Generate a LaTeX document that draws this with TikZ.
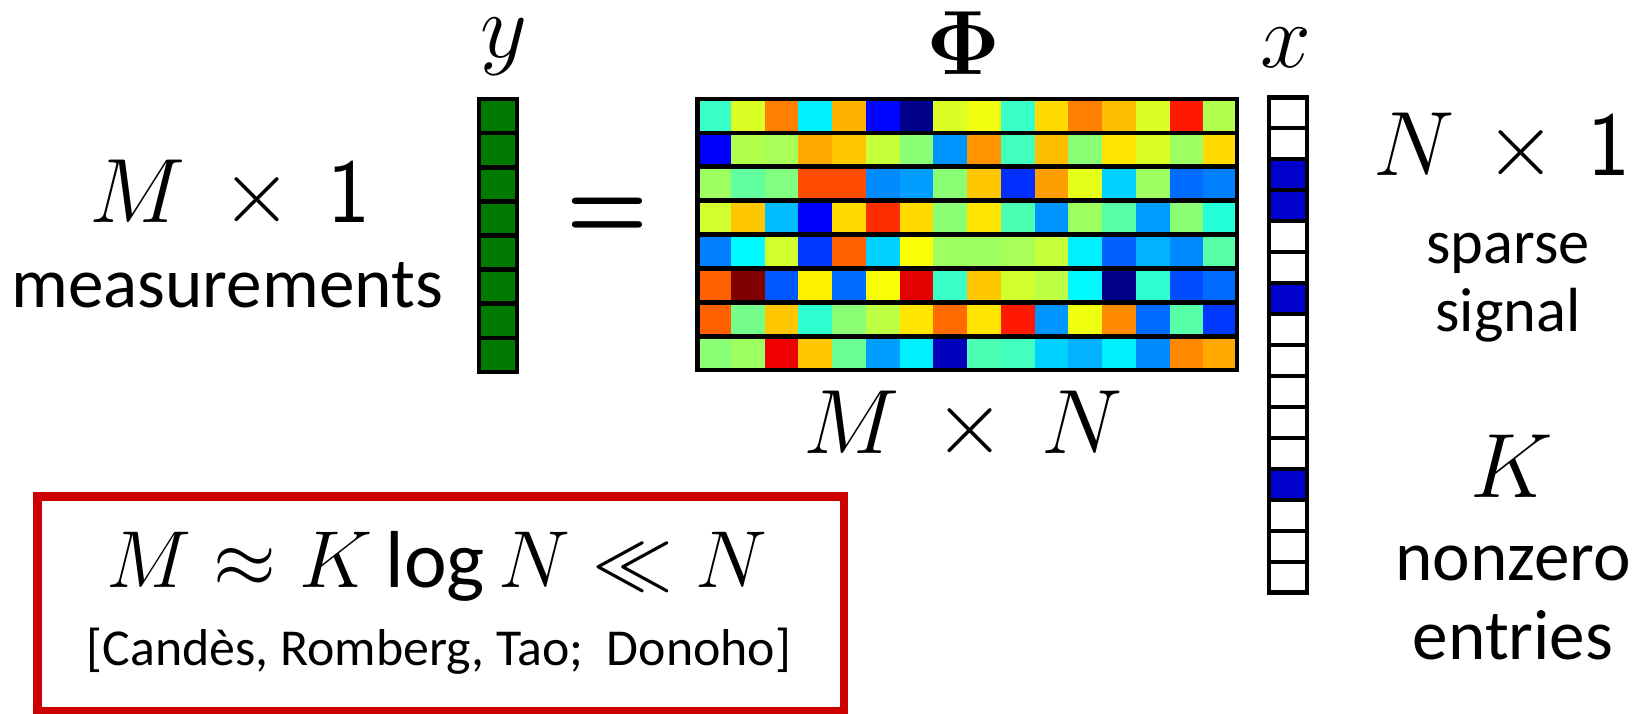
\RequirePackage{fix-cm}
\documentclass[tikz,border=0pt]{standalone}
\usepackage[no-math]{fontspec}
\setmainfont{Carlito}
\usetikzlibrary{calc}

\definecolor{vecgreen}{RGB}{0,122,0}
\definecolor{spikeblue}{RGB}{0,0,205}
\definecolor{boxred}{RGB}{204,0,0}

\begin{document}
\begin{tikzpicture}[
  x=0.02cm, y=-0.02cm,
  mathlbl/.style={inner sep=0pt, anchor=base, font=\fontsize{52}{60}\selectfont},
  boxmath/.style={inner sep=0pt, anchor=base, font=\fontsize{46}{52}\selectfont},
  txt/.style={inner sep=0pt, anchor=base, font=\fontsize{40.5}{49}\selectfont},
  smalltxt/.style={inner sep=0pt, anchor=base, font=\fontsize{35.5}{42}\selectfont},
  citetxt/.style={inner sep=0pt, anchor=base, font=\fontsize{29.5}{35}\selectfont},
  eqtxt/.style={inner sep=0pt, font=\fontfamily{lmr}\bfseries\fontsize{60}{64}\selectfont},
  sep/.style={line width=2.7pt},
  vecframe/.style={draw, line width=2.8pt, inner sep=0pt, minimum width=0.76cm},
]
\useasboundingbox (0,0) rectangle (1638,713);

% ---- y vector (M x 1) ----
\fill[vecgreen] (479,99) rectangle (517,372);
\foreach \i in {1,...,7}
  \draw[sep] (479,{99+\i*34.125}) -- (517,{99+\i*34.125});
\node[vecframe, minimum height=5.46cm] (yvec) at (498,235.5) {};

% ---- Phi matrix (M x N), jet colours ----
\foreach \rowvals [count=\r] in {%
  {43,59,75,36,70,13,1,59,61,43,66,75,69,59,85,55},%
  {12,55,54,71,68,57,51,27,73,44,69,51,65,59,53,66},%
  {53,47,50,80,80,26,28,51,68,17,72,60,33,53,23,25},%
  {58,68,31,12,66,83,66,51,65,45,27,53,46,28,51,41},%
  {25,37,58,18,78,33,62,53,53,54,57,36,22,30,26,46},%
  {78,100,21,64,23,62,90,43,68,58,56,37,1,42,20,23},%
  {78,49,68,42,51,56,65,77,65,85,27,61,74,23,46,18},%
  {51,53,89,68,48,28,36,6,45,44,33,30,36,26,74,71}%
}{
  \foreach \v [count=\c] in \rowvals {
    \pgfmathsetmacro\jr{max(0,min(1,1.5-abs(4*\v/100-3)))}
    \pgfmathsetmacro\jg{max(0,min(1,1.5-abs(4*\v/100-2)))}
    \pgfmathsetmacro\jb{max(0,min(1,1.5-abs(4*\v/100-1)))}
    \definecolor{jetcell}{rgb}{\jr,\jg,\jb}
    \fill[jetcell] ({697+(\c-1)*33.75},{99+(\r-1)*33.875}) rectangle ++(34.3,33.875);
  }
}
\foreach \i in {1,...,7}
  \draw[sep] (697,{99+\i*33.875}) -- (1237,{99+\i*33.875});
\node[draw, line width=2.8pt, inner sep=0pt,
      minimum width=10.8cm, minimum height=5.42cm] (phimat) at (967,234.5) {};

% ---- x vector (N x 1), K = 4 nonzeros ----
\foreach \k in {3,4,7,13}
  \fill[spikeblue] (1269,{97+(\k-1)*31}) rectangle ++(38,31);
\foreach \i in {1,...,15}
  \draw[sep] (1269,{97+\i*31}) -- (1307,{97+\i*31});
\node[vecframe, minimum height=9.92cm] (xvec) at (1288,345) {};

% labels over the vectors
\node[mathlbl] (ylbl) at (504,58) {$y$};
\node[mathlbl] (philbl) at (964,74) {$\mathbf{\Phi}$};
\node[mathlbl] (xlbl) at (1286,68) {$x$};

% equals sign
\node[eqtxt] (eqsign) at (607,219) {=};

% sizes and captions
\node[mathlbl] (mdim) at (230,222) {$M\mskip3mu\times\mskip3mu\mathsf{1}$};
\node[txt] (meas) at (227,307) {measurements};
\node[mathlbl] (mndim) at (963,453) {$M\mskip3mu\times\mskip3mu N$};
\node[mathlbl] (ndim) at (1502,175) {$N\mskip2mu\times\mskip2mu\mathsf{1}$};
\node[smalltxt] (sparse) at (1508,263) {sparse};
\node[smalltxt] (signal) at (1508,331) {signal};
\node[mathlbl] (kdim) at (1512,497) {$K$};
\node[txt] (nonzero) at (1513,580) {nonzero};
\node[txt] (entries) at (1513,659) {entries};

% ---- red result box ----
\node[draw=boxred, line width=4.8pt, inner sep=0pt,
      minimum width=16.13cm, minimum height=4.29cm] (citebox) at (440.75,603.75) {};
\node[boxmath] (bound) at (437,587) {$M \approx K\,\mbox{log}\,N \ll N$};
\node[citetxt] (refs) at (439,665) {[Candès, Romberg, Tao;~~Donoho]};

\end{tikzpicture}
\end{document}
